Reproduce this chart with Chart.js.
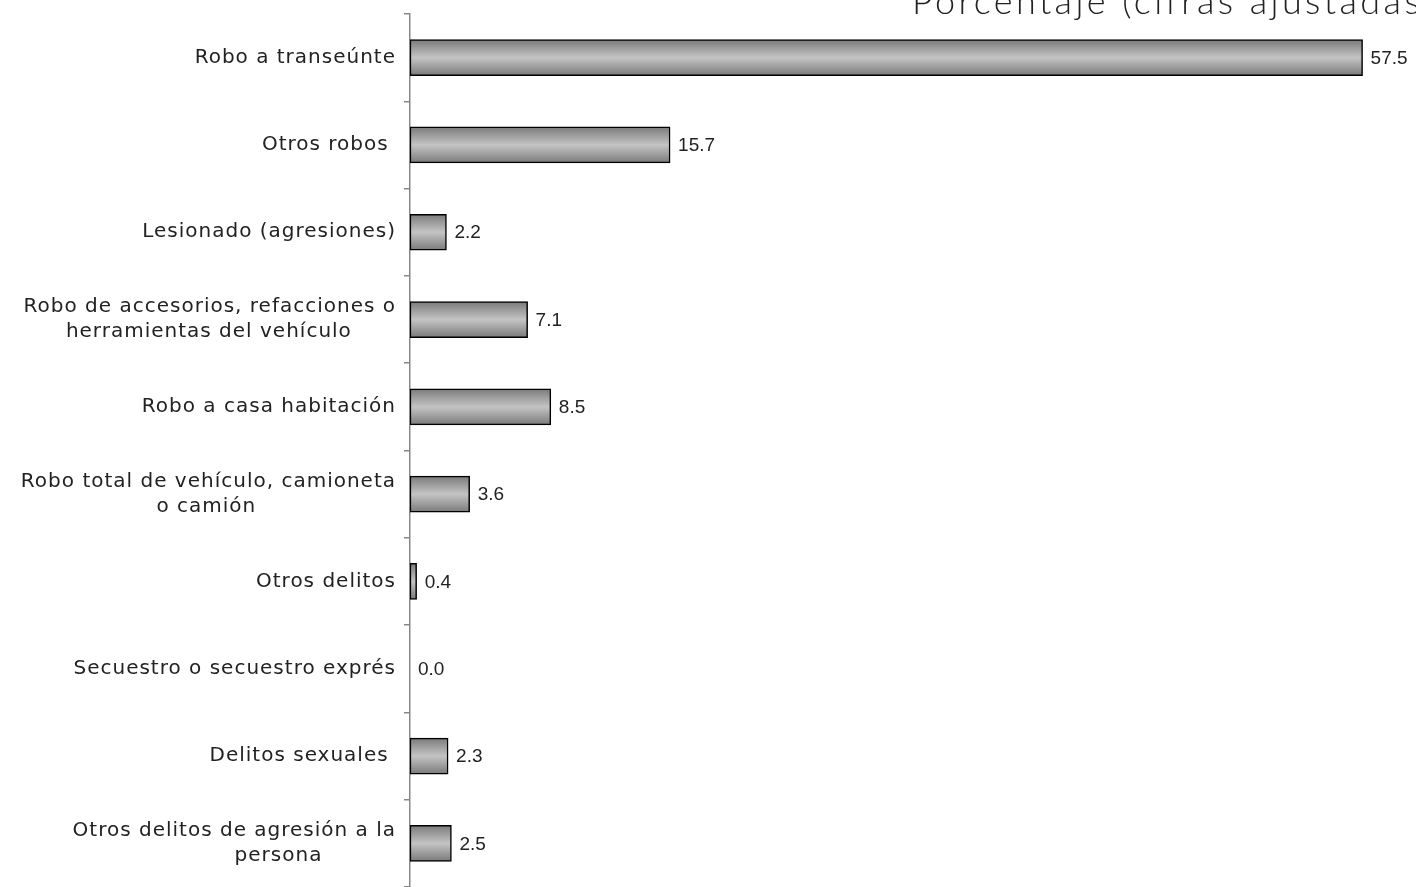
<!DOCTYPE html>
<html>
<head>
<meta charset="utf-8">
<script src="https://cdn.jsdelivr.net/npm/chart.js@4.4.1/dist/chart.umd.min.js"></script>
<style>
html,body{margin:0;padding:0;background:#fff;}
#wrap{width:1416px;height:887px;position:relative;}
</style>
</head>
<body>
<div id="wrap"><canvas id="c" width="1416" height="887"></canvas></div>
<script>
const categories = [
  "Robo a transeúnte",
  "Otros robos ",
  "Lesionado (agresiones)",
  ["Robo de accesorios, refacciones o", "herramientas del vehículo      "],
  "Robo a casa habitación",
  ["Robo total de vehículo, camioneta", "o camión                   "],
  "Otros delitos",
  "Secuestro o secuestro exprés",
  "Delitos sexuales ",
  ["Otros delitos de agresión a la", "persona          "]
];
const values = [57.5, 15.7, 2.2, 7.1, 8.5, 3.6, 0.4, 0.0, 2.3, 2.5];
const titleText = "Porcentaje (cifras ajustadas)";

const BAR_T = 36;

const spacing = {
  id: 'spacing',
  beforeUpdate(chart) { chart.ctx.letterSpacing = '1px'; },
  beforeDraw(chart) { chart.ctx.letterSpacing = '1px'; }
};

const valueLabels = {
  id: 'valueLabels',
  afterDatasetsDraw(chart) {
    const ctx = chart.ctx;
    const meta = chart.getDatasetMeta(0);
    ctx.save();
    ctx.letterSpacing = '0px';
    ctx.font = '19px "Liberation Sans"';
    ctx.fillStyle = '#222';
    ctx.textAlign = 'left';
    ctx.textBaseline = 'middle';
    meta.data.forEach((el, i) => {
      ctx.fillText(values[i].toFixed(1), el.x + 8, el.y + 1);
    });
    ctx.restore();
  }
};

const titlePlugin = {
  id: 'titlePlugin',
  afterDraw(chart) {
    const ctx = chart.ctx;
    ctx.save();
    ctx.letterSpacing = '3.4px';
    ctx.font = '300 36px Lato';
    ctx.fillStyle = '#222';
    ctx.textAlign = 'left';
    ctx.textBaseline = 'alphabetic';
    ctx.fillText(titleText, 912, 14);
    ctx.restore();
  }
};

new Chart(document.getElementById('c'), {
  type: 'bar',
  data: {
    labels: categories,
    datasets: [{
      data: values,
      barThickness: BAR_T,
      borderColor: '#000',
      borderWidth: 1.5,
      borderSkipped: false,
      backgroundColor: (c) => {
        const chart = c.chart;
        const ys = chart.scales.y;
        if (!ys || c.dataIndex === undefined) return '#aaa';
        const yc = ys.getPixelForValue(c.dataIndex);
        if (!isFinite(yc)) return '#aaa';
        const g = chart.ctx.createLinearGradient(0, yc - BAR_T / 2, 0, yc + BAR_T / 2);
        g.addColorStop(0, '#7a7a7a');
        g.addColorStop(0.5, '#c4c4c4');
        g.addColorStop(1, '#7a7a7a');
        return g;
      }
    }]
  },
  options: {
    indexAxis: 'y',
    responsive: false,
    animation: false,
    layout: { padding: { top: 14, right: 12, bottom: -3, left: 0 } },
    plugins: { legend: { display: false }, tooltip: { enabled: false }, title: { display: false } },
    scales: {
      x: {
        display: false,
        min: 0,
        max: 60
      },
      y: {
        afterFit(scale) { scale.width = 410; scale.paddingTop = 0; scale.paddingBottom = 0; },
        border: { display: true, color: '#888', width: 1.5 },
        grid: { display: true, drawOnChartArea: false, offset: true, tickLength: 6, color: '#888', lineWidth: 1.5 },
        ticks: {
          color: '#222',
          padding: 8,
          font: { family: '"DejaVu Sans"', size: 20, lineHeight: 1.25 }
        }
      }
    }
  },
  plugins: [spacing, valueLabels, titlePlugin]
});
</script>
</body>
</html>
